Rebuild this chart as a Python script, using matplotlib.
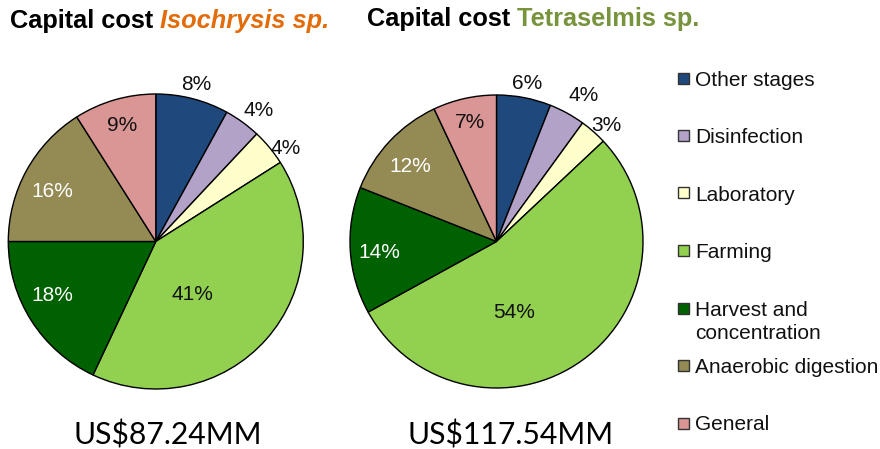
import matplotlib
matplotlib.use("Agg")
import matplotlib.pyplot as plt
from matplotlib.patches import Rectangle
import numpy as np

categories = ["Other stages", "Disinfection", "Laboratory", "Farming",
              "Harvest and\nconcentration", "Anaerobic digestion", "General"]
iso_values = [8, 4, 4, 41, 18, 16, 9]
tet_values = [6, 4, 3, 54, 14, 12, 7]
iso_total = "US$87.24MM"
tet_total = "US$117.54MM"

colors = ["#1f497d", "#b3a2c7", "#ffffcc", "#92d050", "#006100", "#948a54", "#d99694"]
label_colors = ["#111111", "#111111", "#111111", "#111111", "white", "white", "#111111"]

# label placement styles (radius fraction, angle offset in degrees)
iso_dist = [1.10, 1.13, 1.08, 0.44, 0.79, 0.78, 0.82]
iso_dang = [0, -2, -4, -14, -5, 3, 0]
tet_dist = [1.10, 1.16, 1.09, 0.50, 0.80, 0.78, 0.83]
tet_dang = [0, -2, -2, -22, 1.6, 2, 0]

W, H = 880, 449
fig = plt.figure(figsize=(W / 100, H / 100), dpi=100)

def fx(x):
    return x / W

def fy(y):
    return 1 - y / H

def draw_pie(cx, cy, r, values, dist, dang):
    ax = fig.add_axes([fx(cx - r), fy(cy + r), 2 * r / W, 2 * r / H])
    wedges, _ = ax.pie(values, colors=colors, startangle=90, counterclock=False,
                       wedgeprops=dict(edgecolor="black", linewidth=1.0))
    ax.set_xlim(-1, 1)
    ax.set_ylim(-1, 1)
    ax.set_aspect("equal")
    ax.axis("off")
    for i, w in enumerate(wedges):
        ang = np.deg2rad((w.theta1 + w.theta2) / 2 + dang[i])
        ax.text(dist[i] * np.cos(ang), dist[i] * np.sin(ang), f"{values[i]}%",
                ha="center", va="center", fontsize=15, color=label_colors[i],
                family="Liberation Sans", clip_on=False)
    return ax

ax1 = draw_pie(155.8, 241.5, 147.5, iso_values, iso_dist, iso_dang)
ax2 = draw_pie(496.5, 241.5, 146.5, tet_values, tet_dist, tet_dang)

# titles
TS = 18.3
t1 = fig.text(fx(10), fy(28), "Capital cost ", fontsize=TS, fontweight="bold",
              family="Liberation Sans", va="baseline", ha="left")
ax1.annotate("Isochrysis sp.", xy=(1, 0), xycoords=t1, va="bottom", ha="left",
             fontsize=TS, fontweight="bold", fontstyle="italic",
             color="#e36c0a", family="Liberation Sans", annotation_clip=False)
t2 = fig.text(fx(367), fy(26), "Capital cost ", fontsize=TS, fontweight="bold",
              family="Liberation Sans", va="baseline", ha="left")
ax2.annotate("Tetraselmis sp.", xy=(1, 0), xycoords=t2, va="bottom", ha="left",
             fontsize=TS, fontweight="bold",
             color="#77933c", family="Liberation Sans", annotation_clip=False)

# totals
fig.text(fx(168), fy(444), iso_total, fontsize=21.7, family="Lato", ha="center", va="baseline")
fig.text(fx(511), fy(444), tet_total, fontsize=21.7, family="Lato", ha="center", va="baseline")

# legend
leg_y0, leg_step = 78, 57.5
for i, (lab, col) in enumerate(zip(categories, colors)):
    yc = leg_y0 + i * leg_step
    fig.add_artist(Rectangle((fx(678), fy(yc + 5.5)), 11 / W, 11 / H,
                             transform=fig.transFigure, facecolor=col,
                             edgecolor="#333333", linewidth=1.0))
    for j, line in enumerate(lab.split("\n")):
        fig.text(fx(695), fy(yc + 7.5 + j * 23.5), line, fontsize=15,
                 family="Liberation Sans", ha="left", va="baseline", color="#111111")

fig.savefig("out.png", dpi=100)
